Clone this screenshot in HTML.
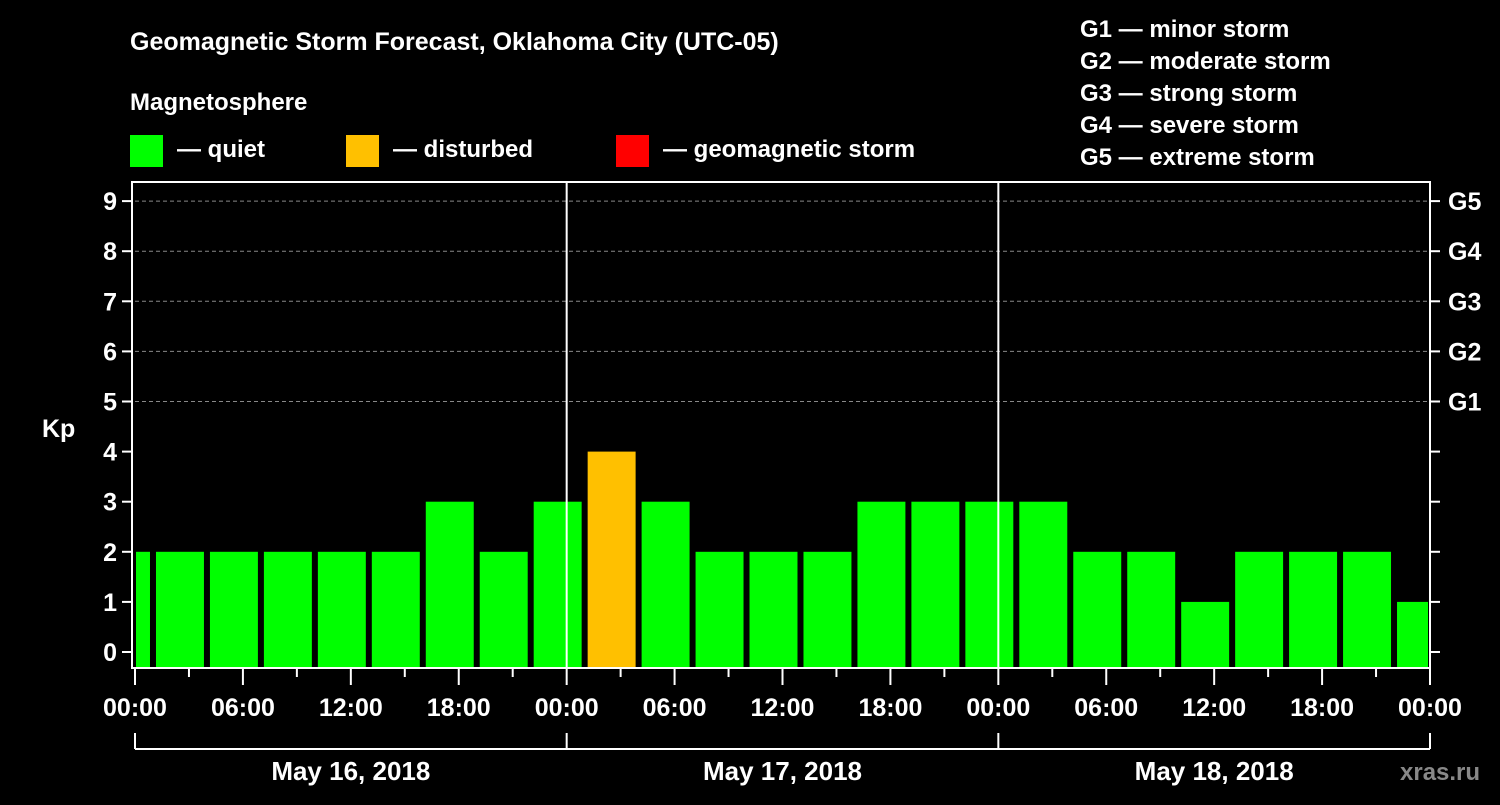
<!DOCTYPE html>
<html><head><meta charset="utf-8"><style>
body{margin:0;background:#000;width:1500px;height:800px;overflow:hidden}
svg{font-family:"Liberation Sans",Arial,sans-serif;font-weight:bold;fill:#fff}
</style></head><body>
<svg id="c" width="1500" height="800">
<text x="130" y="50" font-size="25">Geomagnetic Storm Forecast, Oklahoma City (UTC-05)</text>
<text x="130" y="110" font-size="24">Magnetosphere</text>
<g><rect x="130" y="135" width="33" height="32" fill="#00ff00"/><text x="177" y="157" font-size="24">— quiet</text></g>
<g><rect x="346" y="135" width="33" height="32" fill="#ffc000"/><text x="393" y="157" font-size="24">— disturbed</text></g>
<g><rect x="616" y="135" width="33" height="32" fill="#ff0000"/><text x="663" y="157" font-size="24">— geomagnetic storm</text></g>
<g font-size="24">
<text x="1080" y="37">G1 — minor storm</text><text x="1080" y="69">G2 — moderate storm</text><text x="1080" y="101">G3 — strong storm</text><text x="1080" y="133">G4 — severe storm</text><text x="1080" y="165">G5 — extreme storm</text></g>
<text x="42" y="437" font-size="25">Kp</text>
<text x="1400" y="780" font-size="24" fill="#888" style="fill:#888">xras.ru</text>
<g id="plot"></g>
</svg>
<script>
const kpValues=[2,2,2,2,2,2,3,2,3, 4,3,2,2,2,3,3,3, 3,2,2,1,2,2,2,1];
const binStartHours=[-2,1,4,7,10,13,16,19,22,25,28,31,34,37,40,43,46,49,52,55,58,61,64,67,70];
const yTicks=[0,1,2,3,4,5,6,7,8,9];
const gLabels=["G1","G2","G3","G4","G5"];
const xTickLabels=["00:00","06:00","12:00","18:00","00:00","06:00","12:00","18:00","00:00","06:00","12:00","18:00","00:00"];
const dateLabels=["May 16, 2018","May 17, 2018","May 18, 2018"];
const NS="http://www.w3.org/2000/svg";
const X0=135,X1=1430,YB=668,YT=182;
const x=h=>X0+h*(X1-X0)/72;
const y=v=>652-v*50.1;
const g=document.getElementById('plot');
function mk(t,a,p){const e=document.createElementNS(NS,t);for(const k in a)e.setAttribute(k,a[k]);(p||g).appendChild(e);return e;}
// grid
yTicks.filter(v=>v>=5).forEach(v=>{const l=mk('line',{x1:X0,x2:X1,y1:y(v),y2:y(v),stroke:'#888','stroke-dasharray':'4,3','stroke-width':1});

});
// bars
kpValues.forEach((v,i)=>{const s=Math.max(x(binStartHours[i])+3,X0+1),e=Math.min(x(binStartHours[i]+3)-3,X1-2);
const col=v>=5?'#ff0000':(v>=4?'#ffc000':'#00ff00');
const r=mk('rect',{x:s,y:y(v),width:e-s,height:YB-y(v),fill:col});

});
// day lines
[24,48].forEach(h=>{const l=mk('line',{x1:x(h),x2:x(h),y1:YT,y2:YB,stroke:'#fff','stroke-width':2});

});
// frame
const fr=mk('rect',{x:132,y:YT,width:X1-132,height:YB-YT,fill:'none',stroke:'#fff','stroke-width':2});


// y ticks
yTicks.forEach(v=>{mk('line',{x1:122,x2:132,y1:y(v),y2:y(v),stroke:'#fff','stroke-width':2});
mk('line',{x1:X1,x2:X1+10,y1:y(v),y2:y(v),stroke:'#fff','stroke-width':2});
const t=mk('text',{x:117,y:y(v)+9,'text-anchor':'end','font-size':25});t.textContent=v;


if(v>=5){const r=mk('text',{x:1448,y:y(v)+9,'font-size':25});r.textContent=gLabels[v-5];

}});
// x ticks
for(let h=0;h<=72;h+=3){const maj=h%6==0;mk('line',{x1:x(h),x2:x(h),y1:YB,y2:YB+(maj?17:9),stroke:'#fff','stroke-width':2});}
xTickLabels.forEach((s,i)=>{const t=mk('text',{x:x(i*6),y:716,'text-anchor':'middle','font-size':25});t.textContent=s;

});
// date bracket
mk('line',{x1:X0,x2:X1,y1:749,y2:749,stroke:'#fff','stroke-width':2});
[0,24,48,72].forEach(h=>mk('line',{x1:x(h),x2:x(h),y1:733,y2:749,stroke:'#fff','stroke-width':2}));
dateLabels.forEach((s,i)=>{const t=mk('text',{x:x(i*24+12),y:780,'text-anchor':'middle','font-size':26});t.textContent=s;

});
</script>
</body></html>
